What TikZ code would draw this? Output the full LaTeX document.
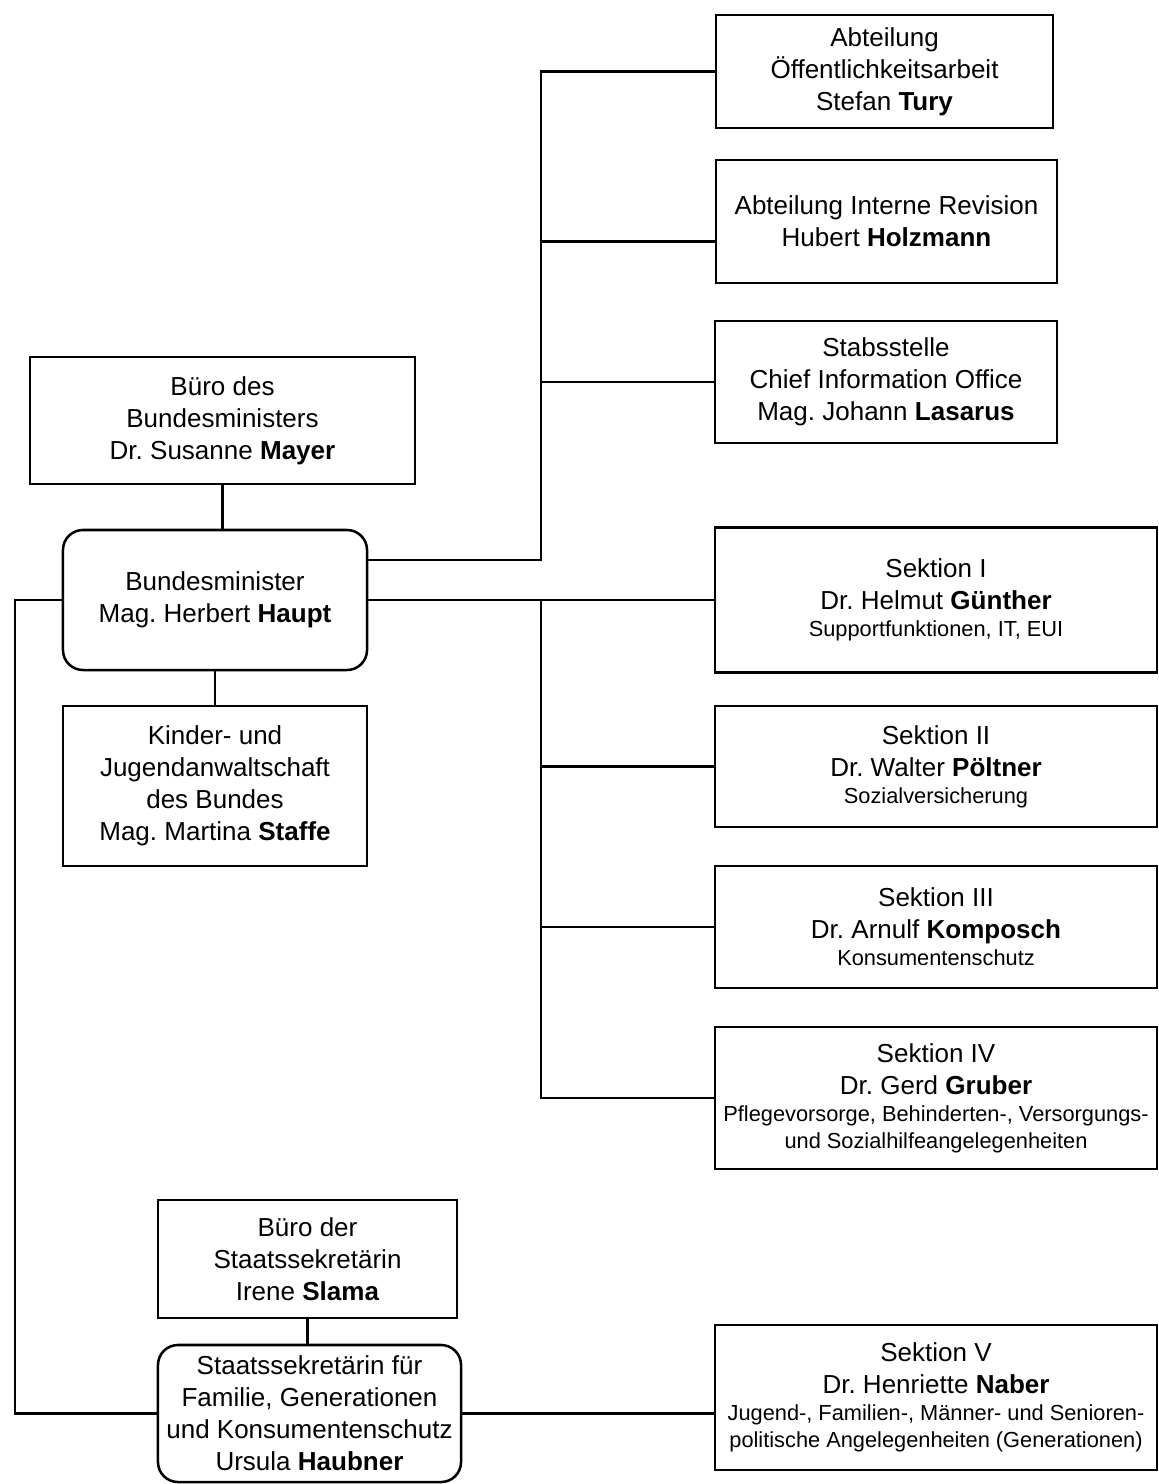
\documentclass[tikz,border=0pt]{standalone}
\usepackage{fontspec}
\setmainfont{Liberation Sans}
\newcommand{\sm}{\fontsize{15.5}{19.2}\selectfont}

\begin{document}
\begin{tikzpicture}
  [x=0.025cm,y=-0.025cm,line width=1.8pt,
   box/.style={draw,rectangle,align=center,inner sep=1mm,
     font=\frenchspacing\fontsize{18.5}{22.8}\selectfont},
   head/.style={box,rounded corners=0.5cm}]
  \useasboundingbox (0,0) rectangle (1158,1484);

  \node[box,minimum width=8.425cm,minimum height=2.825cm] (oeff) at (884.5,71.5)
    {Abteilung\\ Öffentlichkeitsarbeit\\ Stefan \textbf{Tury}};
  \node[box,minimum width=8.525cm,minimum height=3.075cm] (revision) at (886.5,221.5)
    {Abteilung Interne Revision\\ Hubert \textbf{Holzmann}};
  \node[box,minimum width=8.55cm,minimum height=3.05cm] (stab) at (886,382)
    {Stabsstelle\\ Chief Information Office\\ Mag. Johann \textbf{Lasarus}};

  \node[box,minimum width=9.625cm,minimum height=3.175cm] (bueroBM) at (222.5,420.5)
    {Büro des\\ Bundesministers\\ Dr. Susanne \textbf{Mayer}};
  \node[head,minimum width=7.6cm,minimum height=3.5cm] (bm) at (215,600)
    {Bundesminister\\ Mag. Herbert \textbf{Haupt}};
  \node[box,minimum width=7.6cm,minimum height=4cm] (kinder) at (215,786)
    {Kinder- und\\ Jugendanwaltschaft\\ des Bundes\\ Mag. Martina \textbf{Staffe}};

  \node[box,minimum width=11.05cm,minimum height=3.625cm] (s1) at (936,600)
    {Sektion I\\ Dr. Helmut \textbf{Günther}\\[-3.5pt] \sm Supportfunktionen, IT, EUI};
  \node[box,minimum width=11.05cm,minimum height=3.025cm] (s2) at (936,766.5)
    {Sektion II\\ Dr. Walter \textbf{Pöltner}\\[-3.5pt] \sm Sozialversicherung};
  \node[box,minimum width=11.05cm,minimum height=3.05cm] (s3) at (936,927)
    {Sektion III\\ Dr. Arnulf \textbf{Komposch}\\[-3.5pt] \sm Konsumentenschutz};
  \node[box,minimum width=11.05cm,minimum height=3.55cm] (s4) at (936,1098)
    {Sektion IV\\ Dr. Gerd \textbf{Gruber}\\[-3.5pt] \sm Pflegevorsorge, Behinderten-, Versorgungs-\\[-3.5pt] \sm und Sozialhilfeangelegenheiten};

  \node[box,minimum width=7.475cm,minimum height=2.95cm] (bueroSS) at (307.5,1259)
    {Büro der\\ Staatssekretärin\\ Irene \textbf{Slama}};
  \node[head,minimum width=7.575cm,minimum height=3.425cm] (ss) at (309.5,1413.5)
    {Staatssekretärin für\\ Familie, Generationen\\ und Konsumentenschutz\\ Ursula \textbf{Haubner}};
  \node[box,minimum width=11.05cm,minimum height=3.625cm] (s5) at (936,1397.5)
    {Sektion V\\ Dr. Henriette \textbf{Naber}\\[-3.5pt] \sm Jugend-, Familien-, Männer- und Senioren-\\[-3.5pt] \sm politische Angelegenheiten (Generationen)};

  \coordinate (top) at (541,560);
  \coordinate (mid) at (541,600);
  \coordinate (lft) at (15,600);
  \coordinate (revIn) at ([yshift=-5mm]revision.west);

  \draw (bueroBM.south) -- (bueroBM.south |- bm.north);
  \draw (bm.south) -- (kinder.north);
  \draw (bm.east |- top) -- (top) |- (oeff.west);
  \foreach \to in {revIn,stab.west}
    \draw (top |- \to) -- (\to);
  \draw (bm.east) -- (s1.west);
  \draw (mid) |- (s4.west);
  \foreach \to in {s2,s3}
    \draw (mid |- \to.west) -- (\to.west);
  \draw (bm.west) -- (lft) |- (ss.west);
  \draw (bueroSS.south) -- (bueroSS.south |- ss.north);
  \draw (ss.east) -- (s5.west |- ss.east);
\end{tikzpicture}
\end{document}
